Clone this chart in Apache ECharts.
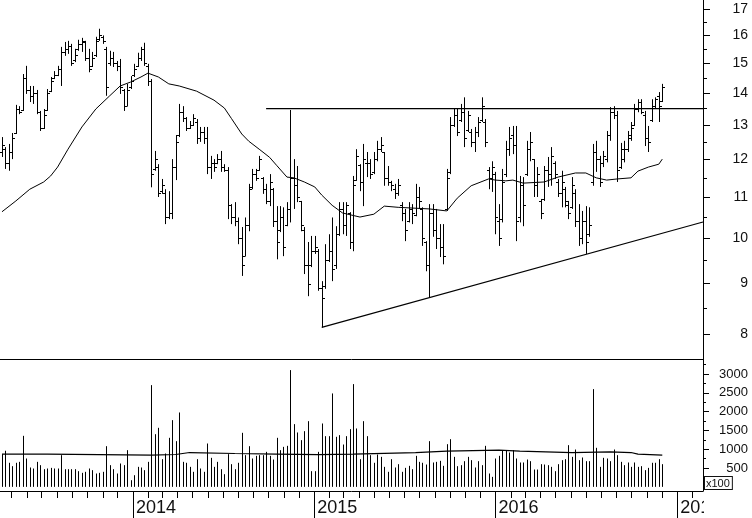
<!DOCTYPE html>
<html><head><meta charset="utf-8">
<script src="https://cdn.jsdelivr.net/npm/echarts@6/dist/echarts.min.js"></script>
<style>html,body{margin:0;padding:0;background:#fff}#c{width:752px;height:518px}</style>
</head><body><div id="c"></div>
<script>
// ---- data (weekly bars) ----
const firstWeek = '2013-04-12';
const ohlc = [
[12.2,12.64,12.07,12.4],[12.3,12.35,11.74,11.9],[11.9,12.44,11.69,12.2],[12.2,12.76,12.01,12.6],[12.75,13.62,12.73,13.5],
[13.5,13.58,13.33,13.4],[13.45,14.63,13.43,14.5],[14.5,14.91,13.97,14.1],[14.1,14.23,13.71,13.9],[13.9,14.23,13.65,14.0],
[14.0,14.10,13.33,13.4],[13.4,13.43,12.82,12.9],[12.9,13.49,12.88,13.3],[13.45,14.13,13.43,14.0],[14.05,14.53,14.03,14.4],
[14.5,14.73,14.46,14.6],[14.6,14.91,14.56,14.8],[14.8,15.58,14.23,15.4],[15.4,15.76,15.26,15.5],[15.5,15.80,15.33,15.6],
[15.6,15.69,14.91,15.0],[15.1,15.51,15.04,15.3],[15.5,15.84,15.44,15.7],[15.7,15.91,15.40,15.8],[15.75,15.80,15.08,15.2],
[15.2,15.51,14.69,14.8],[14.9,15.40,14.87,15.2],[15.3,15.95,15.22,15.8],[15.85,16.25,15.80,16.0],[15.95,16.00,15.69,15.8],
[15.5,15.58,13.91,14.2],[15.0,15.44,14.91,15.2],[15.2,15.40,14.87,15.0],[15.0,15.08,14.73,14.9],[14.9,15.15,13.97,14.2],
[14.1,14.13,13.43,13.6],[13.6,14.30,13.58,14.1],[14.2,14.56,14.13,14.4],[14.6,14.98,14.53,14.8],[14.9,15.37,14.87,15.2],
[15.2,15.58,15.08,15.5],[15.5,15.73,14.91,15.0],[14.9,14.98,14.23,14.4],[14.4,14.46,11.25,11.6],[11.75,12.24,11.69,12.0],
[11.8,11.87,11.00,11.1],[11.15,11.47,11.08,11.3],[11.1,11.20,10.33,10.5],[10.5,11.15,10.45,10.6],[10.6,12.01,10.45,11.8],
[11.8,12.70,11.44,12.5],[12.7,13.65,12.64,13.4],[13.4,13.58,13.09,13.2],[13.2,13.24,12.82,12.9],[12.9,13.12,12.88,13.0],
[13.0,13.33,12.97,13.2],[13.1,13.18,12.44,12.6],[12.6,12.94,12.50,12.8],[12.8,12.94,12.44,12.6],[12.6,12.94,11.60,11.8],
[11.8,12.10,11.47,11.9],[11.9,12.01,11.66,11.8],[11.9,12.15,11.87,12.0],[12.0,12.24,11.66,11.8],[11.8,11.87,11.66,11.7],
[11.7,11.79,10.45,10.8],[10.8,10.82,10.33,10.5],[10.5,10.87,10.28,10.4],[10.4,10.49,9.86,10.0],[10.0,10.26,9.16,9.4],
[9.6,10.49,9.59,10.3],[10.3,11.34,10.16,11.2],[11.25,11.74,11.20,11.6],[11.6,11.74,11.42,11.5],[11.7,12.10,11.69,12.0],
[11.5,11.52,11.08,11.2],[11.2,11.34,10.82,10.9],[10.9,11.60,10.77,11.4],[11.2,11.23,10.26,10.4],[10.4,10.77,9.52,9.9],
[10.2,10.77,10.14,10.5],[10.5,10.74,9.59,9.8],[10.3,10.87,10.28,10.7],[10.7,13.46,10.37,11.5],[11.5,12.01,10.70,11.3],
[11.3,11.82,10.87,11.0],[10.9,10.90,10.16,10.3],[10.2,10.26,9.20,9.4],[9.4,9.91,8.74,9.0],[9.4,10.05,9.35,9.7],
[9.7,10.05,9.64,9.8],[9.7,9.75,8.85,8.9],[8.9,9.05,8.13,8.7],[8.95,9.86,8.89,9.5],[9.5,10.09,9.46,9.7],
[9.7,10.49,9.05,9.3],[9.4,10.28,9.31,10.1],[10.1,10.87,10.05,10.7],[10.7,10.87,10.09,10.3],[10.3,10.87,10.05,10.8],
[10.6,10.62,9.75,9.9],[9.9,11.55,9.70,11.3],[11.45,12.29,11.42,12.1],[11.85,11.87,11.15,11.4],[11.4,12.44,10.77,12.0],
[11.9,12.21,11.52,11.9],[11.9,12.01,11.47,11.6],[11.65,12.21,11.60,12.0],[12.0,12.53,11.95,12.3],[12.3,12.64,12.21,12.4],
[12.2,12.21,11.29,11.5],[11.5,11.82,11.29,11.4],[11.4,11.42,11.15,11.3],[11.2,11.34,10.95,11.1],[11.1,11.47,11.03,11.3],
[10.8,10.87,10.40,10.6],[10.6,10.70,9.93,10.2],[10.4,10.87,10.37,10.7],[10.7,10.82,10.33,10.6],[10.55,11.34,10.52,11.0],
[11.0,11.26,10.70,10.9],[10.7,10.74,9.82,10.0],[9.9,9.93,9.26,9.4],[9.4,10.82,8.72,10.6],[10.6,10.82,10.03,10.2],
[10.2,10.70,9.75,10.0],[10.0,10.33,9.57,9.8],[9.8,10.33,9.41,9.6],[10.7,11.74,10.65,11.5],[11.65,13.24,11.60,13.0],
[13.0,13.49,12.94,13.3],[13.3,13.49,12.67,12.8],[13.15,13.65,13.09,13.4],[13.4,13.86,12.35,12.6],[12.85,13.43,12.79,13.3],
[12.8,12.88,12.35,12.5],[12.5,12.94,12.21,12.8],[12.8,13.24,12.64,13.1],[13.15,13.86,13.09,13.6],[13.1,13.18,12.35,12.5],
[11.7,11.79,11.20,11.5],[11.5,11.95,11.13,11.8],[11.6,11.66,10.09,10.5],[10.4,10.82,9.82,10.0],[10.45,11.74,10.37,11.4],
[11.6,12.53,11.52,12.3],[12.3,12.94,12.10,12.6],[12.7,12.97,12.15,12.4],[12.4,12.97,9.93,10.4],[10.5,11.55,10.37,11.3],
[11.3,11.52,10.28,10.8],[11.6,12.53,11.55,12.3],[12.3,12.79,11.95,12.5],[12.0,12.01,11.00,11.3],[11.3,11.79,11.00,11.6],
[10.9,10.95,10.45,10.6],[10.95,11.82,10.90,11.7],[11.7,12.07,11.26,11.6],[11.6,12.35,11.29,12.1],[11.9,11.95,11.47,11.6],
[11.4,11.47,11.00,11.1],[11.1,11.69,10.74,11.4],[11.2,11.26,10.74,10.9],[10.8,10.90,10.45,10.6],[10.75,11.52,10.70,11.3],
[11.1,11.20,10.26,10.4],[10.4,10.82,9.82,10.0],[10.0,10.65,9.86,10.4],[10.4,10.77,9.64,9.9],[10.1,10.74,10.03,10.3],
[11.4,12.44,11.29,12.2],[12.2,12.53,11.66,12.0],[12.0,12.10,11.26,11.4],[11.9,12.24,11.79,12.1],[12.0,12.82,11.92,12.7],
[12.7,13.55,12.53,13.4],[13.4,13.58,13.18,13.3],[13.3,13.43,11.39,11.7],[11.8,12.47,11.74,12.3],[12.0,12.53,11.92,12.3],
[12.3,12.82,12.21,12.7],[12.6,13.09,12.53,12.9],[13.0,13.65,12.97,13.5],[13.5,13.80,13.39,13.7],[13.7,13.80,13.33,13.4],
[13.3,13.43,12.38,12.6],[12.6,12.97,12.21,12.5],[13.15,13.80,13.09,13.6],[13.6,13.86,13.49,13.8],[13.9,14.03,13.09,13.6],
[13.75,14.30,13.71,14.2]
];
// volume in hundreds (x100)
const volume = [
870,960,640,550,640,665,1357,754,515,488,
665,577,470,488,505,488,488,843,470,470,
470,470,417,373,400,488,444,355,373,400,
1082,577,470,355,621,577,976,177,310,532,
515,444,665,2705,1401,1570,736,887,1304,1774,
1215,1978,665,640,532,400,736,488,400,1153,
772,532,665,470,337,870,603,470,640,1437,
843,1082,754,825,843,843,931,825,727,1304,
976,1064,1091,3105,1668,1446,1242,1481,1747,417,
417,931,1685,1348,1348,2484,1331,1375,1126,1348,
1535,2732,1552,736,1747,1348,843,640,860,798,
532,400,736,515,603,400,505,559,470,
825,665,640,594,1215,648,665,692,559,1135,
1268,798,550,577,683,798,710,515,683,577,
1091,355,266,754,825,976,976,914,976,754,
648,648,727,683,461,461,603,594,577,532,
417,603,710,736,1109,798,993,710,781,683,
683,2599,1038,532,772,754,683,993,843,665,
577,648,532,648,532,550,444,505,640,640,
736,603
];
// moving averages: [week index, value]
const priceMA = [[0,10.63],[4,10.90],[8,11.20],[12,11.39],[14,11.55],[16,11.79],[19,12.29],[23,12.94],[27,13.49],[31,13.91],
[34,14.23],[37,14.36],[40,14.53],[42,14.66],[45,14.53],[48,14.30],[51,14.23],[56,14.06],[61,13.77],[64,13.52],
[66,13.20],[69,12.73],[71,12.52],[74,12.29],[77,12.06],[79,11.84],[82,11.52],[84,11.50],[87,11.39],[90,11.26],
[92,11.05],[95,10.79],[98,10.60],[103,10.50],[107,10.57],[110,10.77],[114,10.74],[123,10.70],[128,10.65],[131,10.97],
[135,11.29],[140,11.47],[142,11.44],[145,11.42],[147,11.44],[150,11.36],[156,11.39],[160,11.52],[165,11.63],[168,11.63],
[171,11.50],[174,11.44],[177,11.47],[181,11.50],[183,11.68],[186,11.79],[189,11.87],[190,12.01]];
const volumeMA = [[0,870],[13,843],[43,860],[50,913],[54,887],[67,870],[79,855],[91,870],[101,913],[119,950],
[128,976],[143,950],[149,913],[164,931],[175,913],[181,870],[183,843],[190,843]];
const resistanceStartWeek = 76, resistanceValue = 13.5;
const supportStartWeek = 92, supportStartValue = 8.13, supportEndValue = 10.38;
const priceTicks = [8,9,10,11,12,13,14,15,16,17];
const priceMinorTicks = [8.5,9.5,10.5,11.5,12.5,13.5,14.5,15.5,16.5];
const volumeTicks = [500,1000,1500,2000,2500,3000];
const volumeMinorTicks = [750,1250,1750,2250,2750,3250];
const yearTicks = ['2014-01-01','2015-01-01','2016-01-01','2017-01-01'];
const axisStart = '2013-04-08', axisEnd = '2017-02-22';
const priceMin = 7.555, priceMax = 17.37, volMin = -110, volMax = 3400;

// ---- build ----
function addDays(s, n) {
  const p = s.split('-').map(Number);
  return new Date(Date.UTC(p[0], p[1]-1, p[2]+n)).toISOString().slice(0,10);
}
function ts(s) { const p = s.split('-').map(Number); return Date.UTC(p[0], p[1]-1, p[2]); }
const weeks = ohlc.map((_, i) => addDays(firstWeek, 7*i));
const monthTicks = [];
for (let y = 2013; y <= 2017; y++) for (let m = 2; m <= 12; m++) {
  const s = y + '-' + String(m).padStart(2,'0') + '-01';
  if (s > axisStart && s < axisEnd) monthTicks.push(ts(s));
}
const L = Math.log;
const FONT = '"Liberation Sans", Arial, sans-serif';
const INK = '#111';

const chart = echarts.init(document.getElementById('c'), null, {renderer:'canvas'});
const xBase = {type:'value', min: ts(axisStart), max: ts(axisEnd), splitLine:{show:false}, scale:true};
chart.setOption({
  animation:false,
  backgroundColor:'#fff',
  grid:[
    {left:0, right:49, top:0, height:359, containLabel:false, outerBoundsMode:'none'},
    {left:0, right:49, top:359, height:132, containLabel:false, outerBoundsMode:'none'}
  ],
  xAxis:[
    Object.assign({}, xBase, {gridIndex:0, position:'bottom', axisLine:{show:true, onZero:false, lineStyle:{color:'#000', width:1}}, axisTick:{show:false}, axisLabel:{show:false}}),
    Object.assign({}, xBase, {gridIndex:1, position:'bottom', axisLine:{show:true, onZero:false, lineStyle:{color:'#000', width:1}},
      axisTick:{show:true, customValues: monthTicks, length:7, lineStyle:{color:'#000'}}, axisLabel:{show:false}}),
    Object.assign({}, xBase, {gridIndex:1, position:'bottom', offset:0, axisLine:{show:false, onZero:false},
      axisTick:{show:true, customValues: yearTicks.map(ts), length:27, lineStyle:{color:'#000'}},
      axisLabel:{show:true, customValues: yearTicks.map(ts), formatter: v => String(new Date(v).getUTCFullYear()),
        align:'left', padding:[0,0,0,3], margin:8, fontSize:18, fontFamily:FONT, color:INK}})
  ],
  yAxis:[
    {type:'value', gridIndex:0, position:'right', min:L(priceMin), max:L(priceMax), splitLine:{show:false},
      axisLine:{show:true, lineStyle:{color:'#000'}},
      axisTick:{show:true, customValues: priceTicks.map(L), length:7, lineStyle:{color:'#000'}},
      axisLabel:{show:true, customValues: priceTicks.map(L), formatter: v => String(Math.round(Math.exp(v))),
        align:'right', margin:45, fontSize:14, fontFamily:FONT, color:INK}},
    {type:'value', gridIndex:0, position:'right', offset:0, min:L(priceMin), max:L(priceMax), splitLine:{show:false},
      axisLine:{show:false},
      axisTick:{show:true, customValues: priceMinorTicks.map(L), length:4, lineStyle:{color:'#000'}},
      axisLabel:{show:false}},
    {type:'value', gridIndex:1, position:'right', min:volMin, max:volMax, splitLine:{show:false},
      axisLine:{show:true, lineStyle:{color:'#000'}},
      axisTick:{show:true, customValues: volumeTicks, length:6, lineStyle:{color:'#000'}},
      axisLabel:{show:true, customValues: volumeTicks, formatter: v => String(v), align:'right', margin:45, fontSize:13, fontFamily:FONT, color:INK}},
    {type:'value', gridIndex:1, position:'right', offset:0, min:volMin, max:volMax, splitLine:{show:false},
      axisLine:{show:false},
      axisTick:{show:true, customValues: volumeMinorTicks, length:3, lineStyle:{color:'#000'}},
      axisLabel:{show:false}}
  ],
  series:[
    {type:'custom', name:'price', xAxisIndex:0, yAxisIndex:0, clip:true,
      data: weeks.map((d, i) => [ts(d), L(ohlc[i][0]), L(ohlc[i][1]), L(ohlc[i][2]), L(ohlc[i][3])]),
      encode:{x:0, y:[1,2,3,4]},
      renderItem(params, api) {
        const t = api.value(0);
        const o = api.coord([t, api.value(1)]), h = api.coord([t, api.value(2)]);
        const l = api.coord([t, api.value(3)]), c = api.coord([t, api.value(4)]);
        const x = Math.round(h[0]) + 0.5;
        const st = {stroke:'#000', lineWidth:1};
        const yo = Math.round(o[1]) + 0.5, yc = Math.round(c[1]) + 0.5;
        return {type:'group', children:[
          {type:'line', shape:{x1:x, y1:h[1], x2:x, y2:l[1]}, style:st},
          {type:'line', shape:{x1:x-2.5, y1:yo, x2:x, y2:yo}, style:st},
          {type:'line', shape:{x1:x, y1:yc, x2:x+2.5, y2:yc}, style:st}
        ]};
      }},
    {type:'line', name:'ma', xAxisIndex:0, yAxisIndex:0, symbol:'none', smooth:false,
      data: priceMA.map(p => [ts(weeks[p[0]]), L(p[1])]), lineStyle:{color:'#000', width:1}},
    {type:'line', name:'resistance', xAxisIndex:0, yAxisIndex:0, symbol:'none',
      data: [[ts(weeks[resistanceStartWeek]), L(resistanceValue)], [ts(axisEnd), L(resistanceValue)]], lineStyle:{color:'#000', width:1.2}},
    {type:'line', name:'support', xAxisIndex:0, yAxisIndex:0, symbol:'none',
      data: [[ts(weeks[supportStartWeek]), L(supportStartValue)], [ts(axisEnd), L(supportEndValue)]], lineStyle:{color:'#000', width:1.2}},
    {type:'custom', name:'volume', xAxisIndex:1, yAxisIndex:2, clip:true,
      data: weeks.map((d, i) => [ts(d), volume[i]]),
      encode:{x:0, y:1},
      renderItem(params, api) {
        const a = api.coord([api.value(0), 0]), b = api.coord([api.value(0), api.value(1)]);
        const x = Math.round(a[0]) + 0.5;
        return {type:'line', shape:{x1:x, y1:a[1], x2:x, y2:b[1]}, style:{stroke:'#000', lineWidth:1}};
      }},
    {type:'line', name:'volMA', xAxisIndex:1, yAxisIndex:2, symbol:'none', step:'end',
      data: volumeMA.map(p => [ts(weeks[p[0]]), p[1]]), lineStyle:{color:'#000', width:1.2}}
  ],
  graphic:[
    {type:'rect', z:100, shape:{x:704, y:492, width:48, height:26}, style:{fill:'#fff'}},
    {type:'text', z:101, x:705, y:477, style:{text:'x100', font:'11px ' + FONT, fill:INK,
      borderColor:'#111', borderWidth:1, padding:[1,2,0,1], backgroundColor:'#fff'}}
  ]
});
</script>
</body></html>
